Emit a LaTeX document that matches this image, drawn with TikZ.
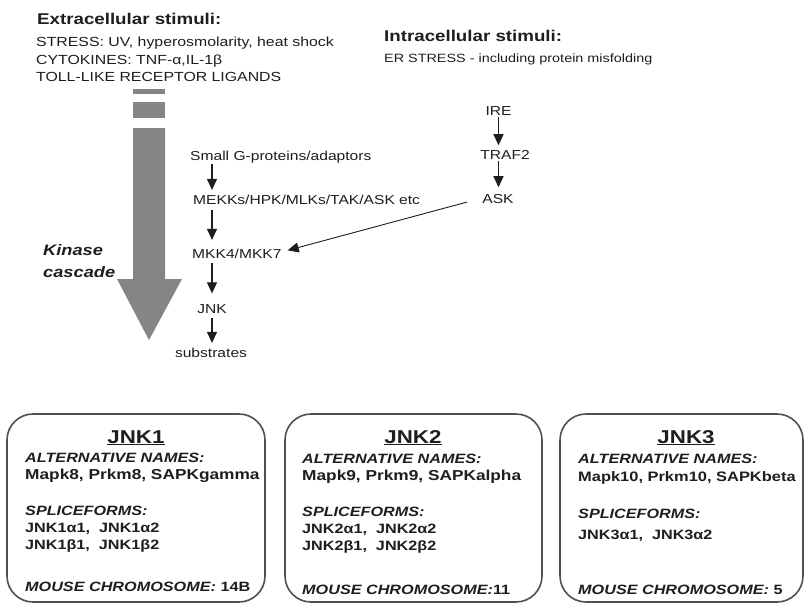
\documentclass[tikz,border=0pt]{standalone}
\usepackage{fontspec}
\setmainfont[FakeStretch=1.2]{Liberation Sans}
\usetikzlibrary{arrows.meta}
\definecolor{ink}{HTML}{1E1E1E}
\definecolor{arrowgray}{HTML}{858585}
\definecolor{boxline}{HTML}{505050}
\begin{document}
\begin{tikzpicture}[x=1pt,y=-1pt,
  lbl/.style={inner sep=0pt, anchor=base west, text=ink},
  headtxt/.style={lbl, font=\fontsize{15.6}{18}\selectfont\bfseries},
  stim/.style={lbl, font=\fontsize{13.2}{16}\selectfont},
  pathtxt/.style={inner sep=1.5pt, text=ink, font=\fontsize{13}{15}\selectfont},
  arr/.style={-{Triangle[width=10pt,length=11pt]}, line width=1.1pt, draw=ink},
  kbox/.style={draw=boxline, line width=1.6pt, rounded corners=26pt},
  ktitle/.style={inner sep=0pt, anchor=base, text=ink, font=\fontsize{18.6}{20}\selectfont\bfseries},
  bi/.style={lbl, font=\fontsize{13.5}{16}\selectfont\bfseries\itshape},
  bt/.style={lbl, font=\fontsize{13.5}{16}\selectfont\bfseries},
  bn/.style={lbl, font=\fontsize{14.4}{16}\selectfont\bfseries},
  kin/.style={lbl, font=\fontsize{15.2}{18}\selectfont\bfseries\itshape}]
\useasboundingbox (0,0) rectangle (810,607);
\fill[white] (0,0) rectangle (810,607);

% stimuli
\node[headtxt] (ext) at (37,25) {Extracellular stimuli:};
\node[stim] (s1) at (36,47) {STRESS: UV, hyperosmolarity, heat shock};
\node[stim] (s2) at (36,64.5) {CYTOKINES: TNF-α,IL-1β};
\node[stim] (s3) at (36,82) {TOLL-LIKE RECEPTOR LIGANDS};
\node[headtxt] (intr) at (384,42) {Intracellular stimuli:};
\node[lbl, font=\fontsize{12}{14}\selectfont] (er) at (384,63) {ER STRESS - including protein misfolding};

% big gray arrow
\fill[arrowgray] (133,89) rectangle (165,94);
\fill[arrowgray] (133,102) rectangle (165,118);
\fill[arrowgray] (133,128) -- (165,128) -- (165,279) -- (182,279) -- (149,340) -- (117,279) -- (133,279) -- cycle;
\node[kin] (k1) at (43,255) {Kinase};
\node[kin] (k2) at (43,277) {cascade};

% main pathway
\coordinate (ax) at (212,0);
\node[pathtxt, anchor=base west] (sg) at (188.5,160) {Small G-proteins/adaptors};
\node[pathtxt, anchor=base west] (mekk) at (191.5,204) {MEKKs/HPK/MLKs/TAK/ASK etc};
\node[pathtxt, anchor=base west] (mkk) at (190.5,258) {MKK4/MKK7};
\node[pathtxt, anchor=base] (jnk) at (212,313) {JNK};
\node[pathtxt, anchor=base] (sub) at (211,357) {substrates};
\draw[arr] (sg.south -| ax) -- ([yshift=3pt]mekk.north -| ax);
\draw[arr, shorten <=4.5pt, shorten >=7pt] (mekk.south -| ax) -- (mkk.north -| ax);
\draw[arr, shorten <=3.5pt, shorten >=9pt] (mkk.south -| ax) -- (jnk.north -| ax);
\draw[arr, shorten <=3.5pt, shorten >=3pt] (jnk.south -| ax) -- (sub.north -| ax);

% ER pathway
\node[pathtxt, anchor=base] (ire) at (498.5,115) {IRE};
\node[pathtxt, anchor=base] (traf) at (505,159) {TRAF2};
\node[pathtxt, anchor=base] (ask) at (498,203) {ASK};
\draw[arr] (ire.south) -- ([yshift=3pt]traf.north -| ire.south);
\draw[arr] (traf.south -| ire.south) -- ([yshift=5pt]ask.north -| ire.south);
\draw[arr, line width=0.9pt] ([xshift=-13.5pt,yshift=-3.5pt]ask.west) -- ([xshift=4.5pt,yshift=3pt]mkk.east);

% JNK1 box
\draw[kbox] (7,414) rectangle (265,602);
\node[ktitle] (t1) at (136,443) {\underline{JNK1}};
\node[bi] (a1) at (25,462) {ALTERNATIVE NAMES:};
\node[bn] (n1) at (25,479) {Mapk8, Prkm8, SAPKgamma};
\node[bi] (sp1) at (25,515) {SPLICEFORMS:};
\node[bt] (f1a) at (25,532) {JNK1α1,~~JNK1α2};
\node[bt] (f1b) at (25,549) {JNK1β1,~~JNK1β2};
\node[bt] (m1) at (25,591) {\itshape MOUSE CHROMOSOME:\upshape\ 14B};

% JNK2 box
\draw[kbox] (285,414) rectangle (542,602);
\node[ktitle] (t2) at (413,443) {\underline{JNK2}};
\node[bi] (a2) at (302,463) {ALTERNATIVE NAMES:};
\node[bn] (n2) at (302,480) {Mapk9, Prkm9, SAPKalpha};
\node[bi] (sp2) at (302,516) {SPLICEFORMS:};
\node[bt] (f2a) at (302,533) {JNK2α1,~~JNK2α2};
\node[bt] (f2b) at (302,550) {JNK2β1,~~JNK2β2};
\node[bt] (m2) at (302,594) {\itshape MOUSE CHROMOSOME:\upshape 11};

% JNK3 box
\draw[kbox] (560,414) rectangle (803,602);
\node[ktitle] (t3) at (686,443) {\underline{JNK3}};
\node[bi] (a3) at (578,463) {ALTERNATIVE NAMES:};
\node[bn, font=\fontsize{13.7}{16}\selectfont\bfseries] (n3) at (578,481) {Mapk10, Prkm10, SAPKbeta};
\node[bi] (sp3) at (578,518) {SPLICEFORMS:};
\node[bt] (f3a) at (578,539) {JNK3α1,~~JNK3α2};
\node[bt] (m3) at (578,594) {\itshape MOUSE CHROMOSOME:\upshape\ 5};
\end{tikzpicture}
\end{document}
